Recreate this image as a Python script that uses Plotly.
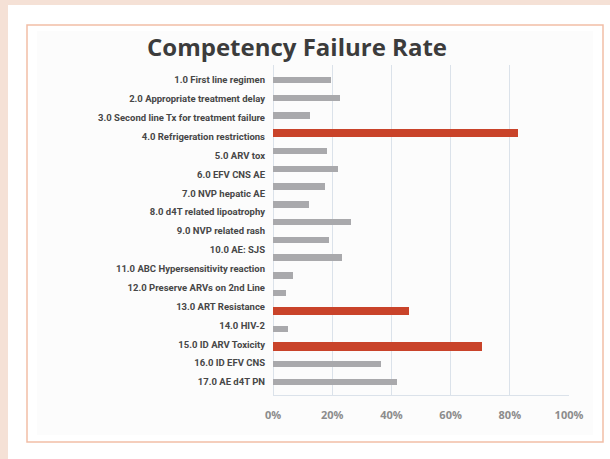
import plotly.graph_objects as go

# ---- data ----
labels = [
    "1.0 First line regimen",
    "2.0 Appropriate treatment delay",
    "3.0 Second line Tx for treatment failure",
    "4.0 Refrigeration restrictions",
    "5.0 ARV tox",
    "6.0 EFV CNS AE",
    "7.0 NVP hepatic AE",
    "8.0 d4T related lipoatrophy",
    "9.0 NVP related rash",
    "10.0 AE: SJS",
    "11.0 ABC Hypersensitivity reaction",
    "12.0 Preserve ARVs on 2nd Line",
    "13.0 ART Resistance",
    "14.0 HIV-2",
    "15.0 ID ARV Toxicity",
    "16.0 ID EFV CNS",
    "17.0 AE d4T PN",
]
# bar rows as drawn (18 bars, evenly spaced, beside 17 labels)
failure_rate = [19.5, 22.7, 12.4, 82.6, 18.1, 21.8, 17.7, 12.0, 26.2,
                18.8, 23.4, 6.6, 4.5, 45.9, 5.2, 70.5, 36.4, 41.8]
highlight_rows = [3, 13, 15]
x_ticks = [0, 20, 40, 60, 80, 100]
x_tick_labels = ["0%", "20%", "40%", "60%", "80%", "100%"]

# ---- styles ----
RED = "#c9432a"
GRAY = "#a9a9ac"
W, H = 610, 459
L, R, T, B = 273, 41, 65, 64
pw, ph = W - L - R, H - T - B

n_bars = len(failure_rate)
n_lab = len(labels)
bar_pos = list(range(n_bars))
colors = [RED if i in highlight_rows else GRAY for i in bar_pos]
widths = [0.46 if i in highlight_rows else 0.36 for i in bar_pos]

# first/last row centres (pixels from top) -> axis ranges
top_c, bot_c = 80.0, 382.0
bar_step = (bot_c - top_c) / (n_bars - 1)
lab_step = (bot_c - top_c) / (n_lab - 1)
bar_range = [(H - B - top_c) / bar_step, -(top_c - T) / bar_step]
lab_range = [(H - B - top_c) / lab_step, -(top_c - T) / lab_step]


def px(x):
    return (x - L) / pw


def py(y):
    return 1 - (y - T) / ph


fig = go.Figure()
fig.add_trace(go.Bar(
    x=failure_rate, y=bar_pos, orientation="h",
    marker=dict(color=colors, line=dict(width=0)),
    width=widths, hoverinfo="x", showlegend=False,
))
fig.add_trace(go.Scatter(
    x=[0] * n_lab, y=list(range(n_lab)), yaxis="y2", mode="markers",
    marker=dict(opacity=0), hoverinfo="skip", showlegend=False,
))

shapes = [
    dict(type="rect", xref="paper", yref="paper", layer="below",
         x0=px(8), x1=px(W + 5), y0=py(H + 5), y1=py(5),
         fillcolor="white", line=dict(width=0)),
    dict(type="rect", xref="paper", yref="paper", layer="below",
         x0=px(37), x1=px(593), y0=py(435), y1=py(31),
         fillcolor="#fcfcfc", line=dict(width=0)),
    dict(type="rect", xref="paper", yref="paper", layer="below",
         x0=px(27), x1=px(603), y0=py(442), y1=py(25),
         fillcolor="rgba(0,0,0,0)", line=dict(color="#f2bea6", width=1.5)),
]

fig.update_layout(
    width=W, height=H,
    margin=dict(l=L, r=R, t=T, b=B),
    paper_bgcolor="#f5e1d6",
    plot_bgcolor="rgba(0,0,0,0)",
    shapes=shapes,
    title=dict(text="<b>Competency Failure Rate</b>",
               x=297 / W, xref="container", xanchor="center",
               y=1 - 48 / H, yref="container", yanchor="middle",
               font=dict(family="Open Sans", size=24, color="#3c3c3c")),
    xaxis=dict(range=[0, 100], tickvals=x_ticks, ticktext=x_tick_labels,
               showgrid=True, gridcolor="#dbe2ea", gridwidth=1,
               zeroline=True, zerolinecolor="#dbe2ea", zerolinewidth=1,
               showline=True, linecolor="#dbe2ea", linewidth=1,
               ticks="", ticklabelstandoff=10, fixedrange=True,
               tickfont=dict(family="Open Sans", size=11, color="#8c8c8c",
                             weight="bold")),
    yaxis=dict(range=bar_range, showticklabels=False, showgrid=False,
               zeroline=False, fixedrange=True),
    yaxis2=dict(range=lab_range, overlaying="y", side="left",
                tickvals=list(range(n_lab)), ticktext=labels,
                showgrid=False, zeroline=False, ticks="",
                ticklabelstandoff=7, fixedrange=True,
                tickfont=dict(family="Roboto", size=9.5, color="#474747",
                              weight="bold")),
    bargap=0,
)

fig.write_html("out.html", config={"displayModeBar": False},
               post_script="document.body.style.margin='0';")
